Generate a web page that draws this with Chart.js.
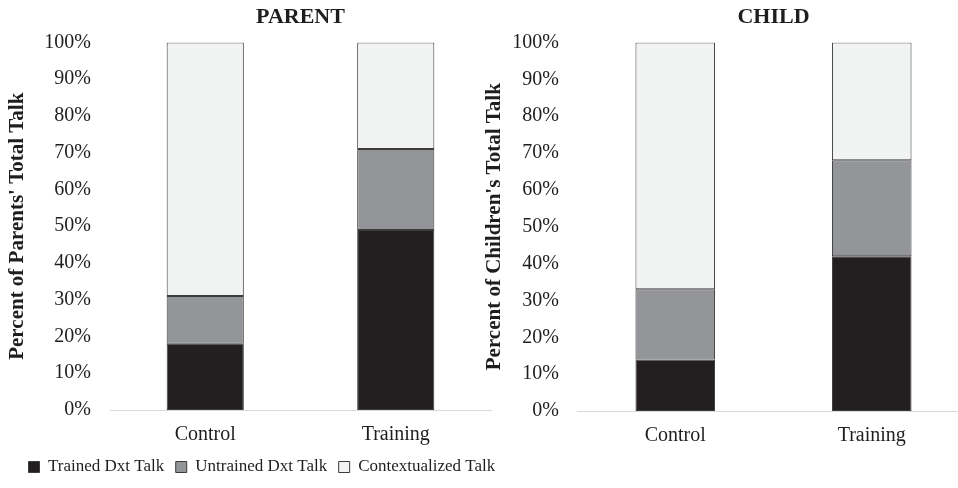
<!DOCTYPE html>
<html>
<head>
<meta charset="utf-8">
<title>Parent and Child Talk Composition</title>
<script src="https://cdn.jsdelivr.net/npm/chart.js@4.4.1/dist/chart.umd.min.js"></script>
<style>
  html, body { margin: 0; padding: 0; background: #ffffff; overflow: hidden; }
  #stage { position: relative; width: 958px; height: 488px; overflow: hidden; background: #ffffff; }
  #parentChart { position: absolute; left: 0; top: 0; }
  #childChart { position: absolute; left: 478px; top: 0; }
</style>
</head>
<body>
<div id="stage">
  <canvas id="parentChart" width="560" height="488"></canvas>
  <canvas id="childChart" width="492" height="488"></canvas>
</div>
<script>
// Categories and percentages of total talk by talk type
const categories = ['Control', 'Training'];
const seriesNames = ['Trained Dxt Talk', 'Untrained Dxt Talk', 'Contextualized Talk'];

const parentTrained = [18, 49];
const parentUntrained = [13, 22];
const parentContextualized = [69, 29];

const childTrained = [14, 42];
const childUntrained = [19, 26];
const childContextualized = [67, 32];

const percentTicks = [0, 10, 20, 30, 40, 50, 60, 70, 80, 90, 100];

const FILLS = ['#231f20', '#939598', '#f1f2f2'];
const EDGE = '#3c3c3c';
const TEXT = '#1e1e1e';
const SERIF = "'Liberation Serif', 'Times New Roman', serif";

function makeDatasets(trained, untrained, contextualized) {
  return [trained, untrained, contextualized].map((values, i) => ({
    label: seriesNames[i],
    data: values,
    backgroundColor: FILLS[i],
    borderColor: EDGE,
    borderWidth: 1,
    borderSkipped: false,
    barPercentage: 0.405,
    categoryPercentage: 1.0
  }));
}

function makeOptions(cfg) {
  return {
    responsive: false,
    animation: false,
    devicePixelRatio: 1,
    layout: { padding: { left: cfg.leftPad, right: 0, top: 0, bottom: cfg.bottomPad } },
    plugins: {
      title: {
        display: true,
        text: cfg.title,
        fullSize: false,
        color: TEXT,
        font: { family: SERIF, size: 22, weight: 'bold' },
        padding: { top: 4, bottom: 12 }
      },
      legend: cfg.legend ? {
        display: true,
        position: 'bottom',
        align: 'start',
        labels: {
          color: TEXT,
          font: { family: SERIF, size: 17 },
          boxWidth: 11,
          boxHeight: 11,
          padding: 11.5
        }
      } : { display: false },
      tooltip: { enabled: false }
    },
    scales: {
      x: {
        stacked: true,
        grid: { display: false, drawTicks: false },
        border: { display: true, color: '#d9d9d9', width: 1 },
        ticks: { color: TEXT, font: { family: SERIF, size: 20 }, padding: 13 },
        afterFit: (scale) => { scale.height = cfg.xAxisHeight; }
      },
      y: {
        stacked: true,
        min: 0,
        max: 100,
        afterBuildTicks: (scale) => { scale.ticks = percentTicks.map(v => ({ value: v })); },
        grid: { display: false, drawTicks: false },
        border: { display: false },
        ticks: {
          color: TEXT,
          font: { family: SERIF, size: 20 },
          padding: cfg.tickPad,
          callback: (v) => v + '%'
        },
        title: {
          display: true,
          text: cfg.yTitle,
          color: TEXT,
          font: { family: SERIF, size: 21, weight: 'bold', lineHeight: cfg.yTitleLineHeight },
          padding: { top: cfg.yTitlePad, bottom: 0 }
        },
        afterFit: (scale) => { scale.width = cfg.yAxisWidth; }
      },
      // empty spacer on the right so the legend row can run past the plot edge
      spacer: {
        type: 'linear',
        position: 'right',
        display: cfg.rightSpace > 0,
        grid: { display: false, drawTicks: false },
        border: { display: false },
        ticks: { display: false },
        afterFit: (scale) => { scale.width = cfg.rightSpace; }
      }
    }
  };
}

new Chart(document.getElementById('parentChart'), {
  type: 'bar',
  data: { labels: categories, datasets: makeDatasets(parentTrained, parentUntrained, parentContextualized) },
  options: makeOptions({
    title: 'PARENT',
    yTitle: "Percent of Parents' Total Talk",
    legend: true,
    leftPad: 17,
    bottomPad: 2.5,
    xAxisHeight: 37,
    yAxisWidth: 93,
    tickPad: 19,
    yTitleLineHeight: 0.01,
    yTitlePad: 0,
    rightSpace: 69
  })
});

new Chart(document.getElementById('childChart'), {
  type: 'bar',
  data: { labels: categories, datasets: makeDatasets(childTrained, childUntrained, childContextualized) },
  options: makeOptions({
    title: 'CHILD',
    yTitle: "Percent of Children's Total Talk",
    legend: false,
    leftPad: 0,
    bottomPad: 40,
    xAxisHeight: 37,
    yAxisWidth: 99,
    tickPad: 18,
    yTitleLineHeight: 1.2,
    yTitlePad: 4.4,
    rightSpace: 0
  })
});
</script>
</body>
</html>
